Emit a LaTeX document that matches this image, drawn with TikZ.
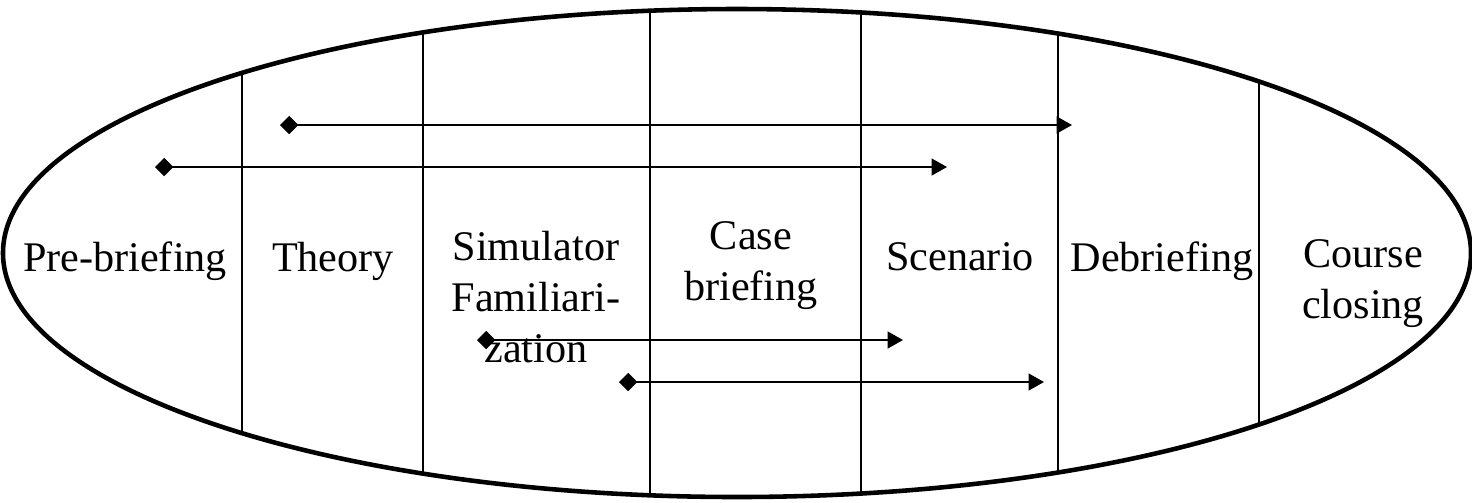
\documentclass[tikz,border=0pt]{standalone}
\usepackage{fontspec}
\setmainfont{Liberation Serif}
\usetikzlibrary{arrows.meta}

\begin{document}
\begin{tikzpicture}[x=0.01cm, y=-0.01cm,
    phase/.style={font=\fontsize{12}{14.5}\selectfont, align=center, anchor=base, inner sep=0pt},
    span/.style={line width=0.6pt, {Diamond[length=5.2pt,width=5.2pt]}-{Triangle[length=4.4pt,width=4.8pt]}}]
  \useasboundingbox (0,0) rectangle (1472,502);

  % outer ellipse
  \coordinate (C) at (737,253);
  \draw[line width=1.3pt] (C) ellipse [x radius=734, y radius=244];

  % phase borders
  \begin{scope}
    \clip (C) ellipse [x radius=734, y radius=244];
    \foreach \x in {242,423,650,861,1058,1259}{
      \draw[line width=0.6pt] (\x,0) -- (\x,502);
    }
  \end{scope}

  % phases (base = last line)
  \node[phase] (pre) at (125,271) {Pre-briefing};
  \node[phase] (theory) at (333,271) {Theory};
  \node[phase] (sim) at (536,362) {Simulator\\Familiari-\\zation};
  \node[phase] (case) at (751,300) {Case\\briefing};
  \node[phase] (scen) at (960,270) {Scenario};
  \node[phase] (debrief) at (1162,271) {Debriefing};
  \node[phase] (closing) at (1363,318) {Course\\closing};

  % spans
  \coordinate (S1) at (280,125);  \coordinate (E1) at (1072,125);
  \coordinate (S2) at (155,167);  \coordinate (E2) at (947,167);
  \coordinate (S3) at (477,340);  \coordinate (E3) at (903,340);
  \coordinate (S4) at (619,382);  \coordinate (E4) at (1044,382);
  \draw[span] (S1) -- (E1);
  \draw[span] (S2) -- (E2);
  \draw[span] (S3) -- (E3);
  \draw[span] (S4) -- (E4);
\end{tikzpicture}
\end{document}
